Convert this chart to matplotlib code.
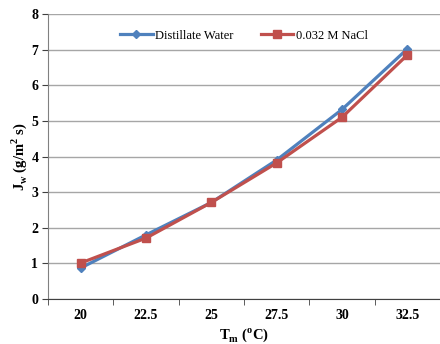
import matplotlib.pyplot as plt
import numpy as np

plt.rcParams["font.family"] = ["Liberation Serif", "DejaVu Serif"]
plt.rcParams["mathtext.fontset"] = "custom"
plt.rcParams["mathtext.rm"] = "Liberation Serif"
plt.rcParams["mathtext.bf"] = "Liberation Serif:bold"

temps = ["20", "22.5", "25", "27.5", "30", "32.5"]
water = [0.87, 1.80, 2.71, 3.90, 5.32, 7.02]
nacl = [1.01, 1.71, 2.71, 3.82, 5.10, 6.85]

BLUE = "#4F81BD"
RED = "#C0504D"

fig = plt.figure(figsize=(4.4, 3.44), dpi=100)
ax = fig.add_axes([48 / 440, 1 - 299 / 344, 392 / 440, 285 / 344])

x = np.arange(len(temps))
ax.plot(x, water, color=BLUE, lw=2.3, marker="D", ms=4.5, label="Distillate Water", zorder=3)
ax.plot(x, nacl, color=RED, lw=2.3, marker="s", ms=6, label="0.032 M NaCl", zorder=3)

ax.set_xlim(-0.5, len(temps) - 0.5)
ax.set_ylim(0, 8)
ax.set_yticks(range(0, 9))
ax.set_xticks(x)
ax.set_xticklabels(temps)
ax.set_xticks(np.arange(-0.5, len(temps)), minor=True)
ax.tick_params(axis="x", which="major", length=0, pad=7)
ax.tick_params(axis="x", which="minor", length=4, color="#404040")
ax.tick_params(axis="y", length=4, color="#404040", pad=3)
for lab in ax.get_xticklabels() + ax.get_yticklabels():
    lab.set_fontweight("bold")
    lab.set_fontsize(10)

ax.grid(axis="y", color="#A6A6A6", lw=1.0)
ax.set_axisbelow(True)
for s in ["top", "right"]:
    ax.spines[s].set_visible(False)
ax.spines["left"].set_color("#808080")
ax.spines["bottom"].set_color("#404040")

ax.set_ylabel(r"J$_\mathbf{w}$ (g/m$^\mathbf{2}$ s)", fontsize=10.5, fontweight="bold", labelpad=2)
ax.set_xlabel(r"T$_\mathbf{m}$ ($^\mathbf{o}$C)", fontsize=10.5, fontweight="bold", labelpad=3)

ax.legend(loc="upper center", bbox_to_anchor=(0.5, 0.985), ncol=2, frameon=False,
          fontsize=9, handlelength=2.6, columnspacing=2.2, handletextpad=0.2)

fig.savefig("out.png", dpi=100)
